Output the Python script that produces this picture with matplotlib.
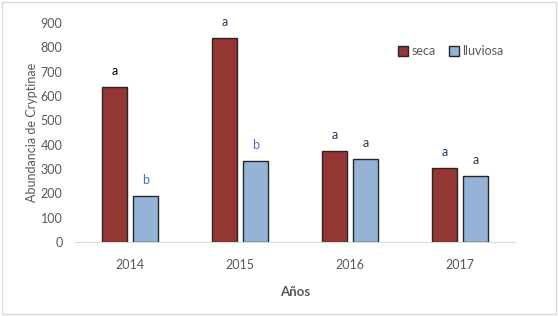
import numpy as np
import matplotlib.pyplot as plt
from matplotlib.patches import Rectangle

plt.rcParams['font.family'] = ['Lato', 'DejaVu Sans']

years = ['2014', '2015', '2016', '2017']
seca = [637, 838, 374, 304]
lluviosa = [189, 333, 341, 271]
letras_seca = ['a', 'a', 'a', 'a']
letras_lluviosa = ['b', 'b', 'a', 'a']

c_seca = '#943634'
c_lluv = '#95b3d7'
gray = '#595959'

fig = plt.figure(figsize=(5.58, 3.16), dpi=100)
ax = fig.add_axes([75 / 558, 74 / 316, 440 / 558, 219 / 316])

x = np.arange(len(years))
w = 0.227
off = 0.141
ax.bar(x - off, seca, w, color=c_seca, edgecolor='#262626', linewidth=1, label='seca')
ax.bar(x + off, lluviosa, w, color=c_lluv, edgecolor='#262626', linewidth=1, label='lluviosa')

# letras de significancia
for i in range(len(years)):
    col_a = 'black' if i == 0 else '#1f3a60'
    ax.text(x[i] - off, seca[i] + 40, letras_seca[i], ha='center', va='bottom',
            fontsize=9, color=col_a)
    col_b = '#3c74b8' if letras_lluviosa[i] == 'b' else '#1f3a60'
    ax.text(x[i] + off, lluviosa[i] + 40, letras_lluviosa[i], ha='center', va='bottom',
            fontsize=9, color=col_b)

ax.set_xlim(-0.5, 3.5)
ax.set_ylim(0, 900)
ax.set_yticks(range(0, 901, 100))
ax.set_xticks(x)
ax.set_xticklabels(years)
ax.tick_params(axis='both', length=0, colors=gray, labelsize=9)
ax.tick_params(axis='x', pad=12)
ax.tick_params(axis='y', pad=9)
for s in ['top', 'right', 'left']:
    ax.spines[s].set_visible(False)
ax.spines['bottom'].set_color('#d9d9d9')

ax.set_ylabel('Abundancia de Cryptinae', color=gray, fontsize=9, labelpad=2)
ax.set_xlabel('Años', color=gray, fontsize=9.5, fontweight='bold', labelpad=11)

ax.legend(loc='upper right', bbox_to_anchor=(1.0, 0.95), ncol=2, frameon=False,
          fontsize=9, labelcolor=gray, handlelength=0.8, handleheight=0.8,
          handletextpad=0.3, columnspacing=1.0)

# borde de la figura
fig.patches.append(Rectangle((0.004, 0.006), 0.992, 0.988, transform=fig.transFigure,
                             fill=False, edgecolor='#d9d9d9', linewidth=1))

fig.savefig('out.png', dpi=100)
